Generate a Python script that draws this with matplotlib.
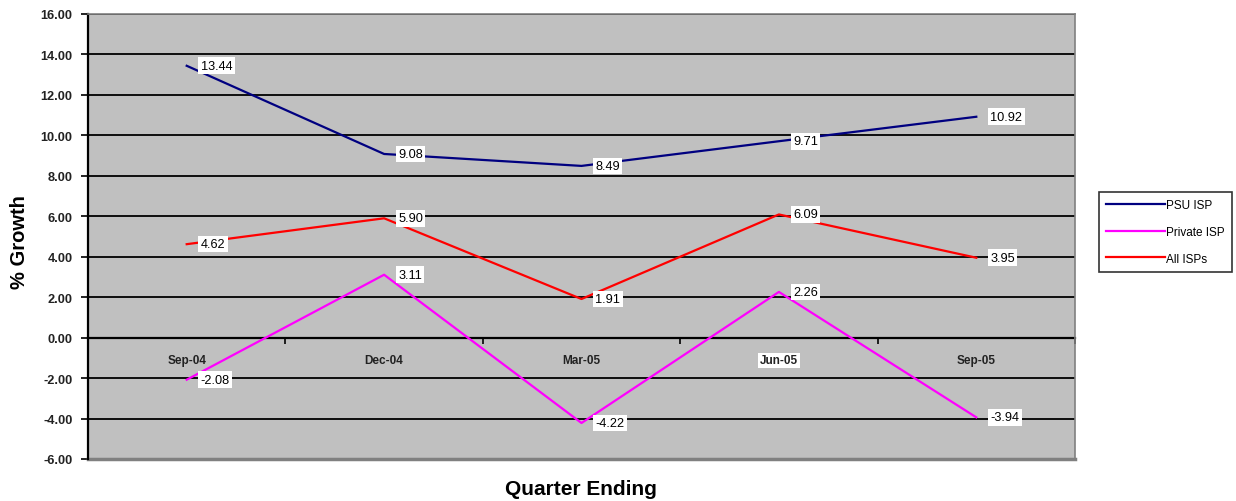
import matplotlib
matplotlib.use("Agg")
import matplotlib.pyplot as plt
from matplotlib.ticker import FixedLocator, FormatStrFormatter

categories = ["Sep-04", "Dec-04", "Mar-05", "Jun-05", "Sep-05"]
psu_isp = [13.44, 9.08, 8.49, 9.71, 10.92]
private_isp = [-2.08, 3.11, -4.22, 2.26, -3.94]
all_isps = [4.62, 5.90, 1.91, 6.09, 3.95]
series_names = ["PSU ISP", "Private ISP", "All ISPs"]
colors = ["#000080", "#FF00FF", "#FF0000"]

plt.rcParams['font.family'] = ['Liberation Sans', 'DejaVu Sans']

fig = plt.figure(figsize=(12.36, 5.02), dpi=100)
ax = fig.add_axes([88/1236, 42/502, 987/1236, 445/502])
ax.set_facecolor("#C0C0C0")

x = list(range(len(categories)))
ax.set_xlim(-0.5, len(categories) - 0.5)
ax.set_ylim(-6, 16)

# gridlines
ax.set_yticks([v for v in range(-6, 17, 2)])
ax.yaxis.set_major_formatter(FormatStrFormatter('%.2f'))
ax.grid(axis='y', color='black', linewidth=1.3, zorder=1)
ax.set_axisbelow(True)

for vals, name, c in zip([psu_isp, private_isp, all_isps], series_names, colors):
    ax.plot(x, vals, color=c, linewidth=1.6, label=name, zorder=3)
    for xi, v in zip(x, vals):
        ax.annotate(f"{v:.2f}", (xi, v), xytext=(14, 0), textcoords='offset pixels',
                    ha='left', va='center', fontsize=9.2, color='black', zorder=5,
                    bbox=dict(boxstyle='square,pad=0.18', fc='white', ec='none'))

# spines
for s in ['top', 'right']:
    ax.spines[s].set_color('#808080')
    ax.spines[s].set_linewidth(1.2)
ax.spines['left'].set_color('black')
ax.spines['left'].set_linewidth(1.6)
ax.spines['bottom'].set_position(('data', 0))
ax.spines['bottom'].set_color('black')
ax.spines['bottom'].set_linewidth(1.6)
ax.spines['bottom'].set_zorder(2)
# gray frame bottom
ax.axhline(-6, color='#808080', linewidth=2.5, zorder=2, clip_on=False)

ax.set_xticks(x)
ax.set_xticklabels(categories, fontsize=8.5, fontweight='bold', color='#222222')
ax.tick_params(axis='x', which='major', length=0, pad=12)
ax.xaxis.set_minor_locator(FixedLocator([i + 0.5 for i in range(len(categories))]))
ax.tick_params(axis='x', which='minor', length=4, width=1.2, direction='out', color='black')
for lbl in ax.get_xticklabels():
    if lbl.get_text() == "Jun-05":
        lbl.set_bbox(dict(boxstyle='square,pad=0.15', fc='white', ec='none'))

ax.tick_params(axis='y', length=5, width=1.2, direction='out', labelsize=9.2, pad=6)
for lbl in ax.get_yticklabels():
    lbl.set_fontweight('bold')
    lbl.set_color('#222222')

fig.text(20/1236, 1 - 242/502, "% Growth", rotation=90, ha='center', va='center',
         fontsize=14.5, fontweight='bold')
fig.text(581/1236, 1 - 490/502, "Quarter Ending", ha='center', va='center',
         fontsize=15, fontweight='bold')

leg = fig.legend(loc='upper right', bbox_to_anchor=(1232/1236, 1 - 193/502),
                 fontsize=8.5, frameon=True, fancybox=False, edgecolor='black',
                 handlelength=5.0, handletextpad=0.1, borderpad=0.6, labelspacing=1.25,
                 borderaxespad=0)
leg.get_frame().set_linewidth(1.2)

fig.savefig("out.png", dpi=100)
